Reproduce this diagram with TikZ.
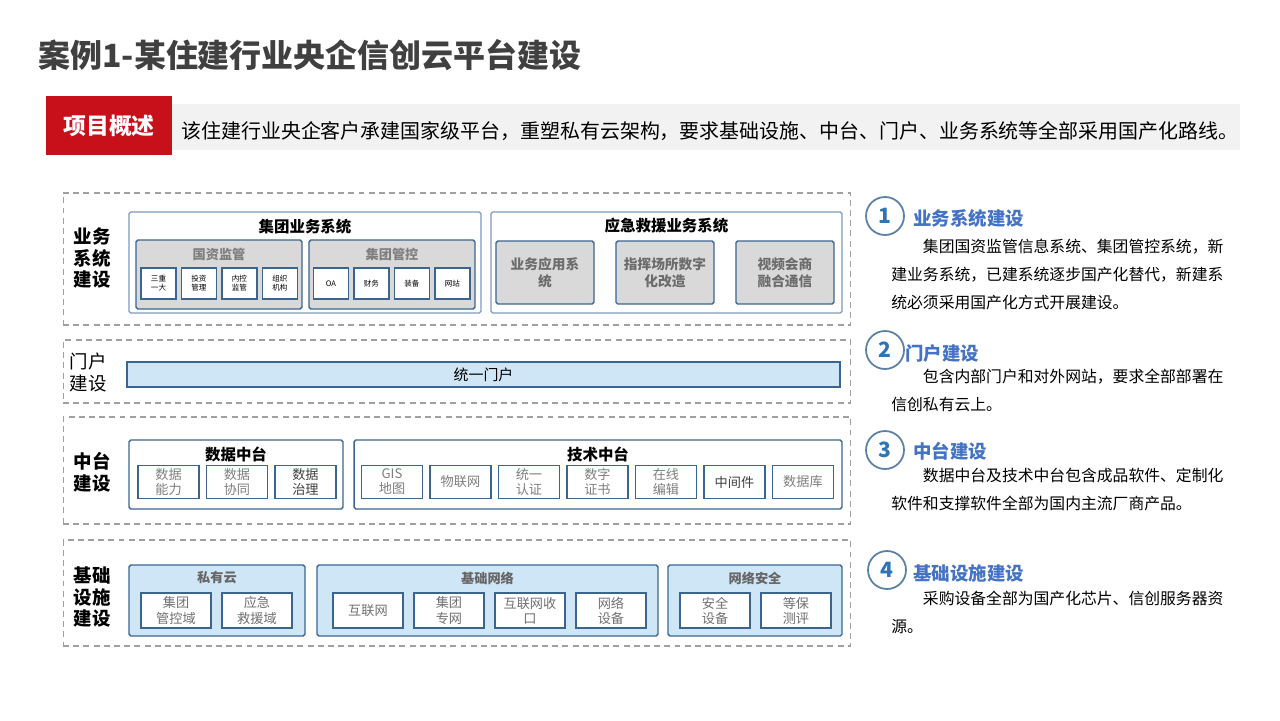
\documentclass[tikz,border=0pt]{standalone}
\usepackage{fontspec}
\setmainfont{Noto Sans CJK SC}
\usetikzlibrary{positioning}
\definecolor{titlegray}{HTML}{404040}
\definecolor{bannerred}{HTML}{C8101A}
\definecolor{bannergray}{HTML}{F2F2F2}
\definecolor{zonegray}{HTML}{A0A0A0}
\definecolor{boxblue}{HTML}{3A6590}
\definecolor{outerblue}{HTML}{7E9BB8}
\definecolor{fillgray}{HTML}{D9D9D9}
\definecolor{fillblue}{HTML}{CFE6F6}
\definecolor{headblue}{HTML}{4472C4}
\definecolor{ringblue}{HTML}{5B80A5}
\definecolor{numblue}{HTML}{2E75B6}
\definecolor{txtgray}{HTML}{7F7F7F}

\begin{document}
\begin{tikzpicture}[
    x=0.02cm, y=-0.02cm,
    on grid,
    node distance=0.81cm,
    inner sep=0pt,
    align=center,
    zone/.style={
        draw=zonegray,
        dash pattern=on 3.4pt off 2.4pt,
        line width=0.6pt,
        minimum width=15.76cm
    },
    outer/.style={
        draw=outerblue,
        rounded corners=1pt,
        line width=0.7pt,
        fill=white
    },
    inner/.style={
        draw=boxblue,
        rounded corners=1pt,
        line width=0.8pt
    },
    cell/.style={
        draw=boxblue,
        line width=0.8pt,
        fill=white
    },
    rowlabel/.style={
        font=\fontsize{10.5}{12.5}\selectfont\bfseries
    },
    grptitle/.style={
        font=\fontsize{8.8}{10}\selectfont\bfseries
    },
    ring/.style={
        circle,
        draw=ringblue,
        line width=1pt,
        minimum size=0.76cm,
        text=numblue,
        font=\fontsize{12}{12}\selectfont\bfseries
    },
    heading/.style={
        anchor=west,
        text=headblue,
        font=\fontsize{10.5}{12}\selectfont\bfseries
    },
    para/.style={
        anchor=north west,
        align=left,
        font=\fontsize{9}{15.9}\selectfont
    }]

    \useasboundingbox (0,0) rectangle (1280,720);

    % title and overview
    \node[anchor=west, text=titlegray, font=\fontsize{18.2}{20}\selectfont\bfseries] (title) at (38,55) {案例1-某住建行业央企信创云平台建设};
    \node[fill=bannergray, minimum width=21.36cm, minimum height=0.92cm] (banner) at (706,127) {};
    \node[fill=bannerred, text=white, minimum width=2.52cm, minimum height=1.18cm, font=\fontsize{13}{15}\selectfont\bfseries] (tag) at (109,125.5) {项目概述};
    \node[anchor=west, font=\fontsize{11.35}{13}\selectfont] (summary) at (181,131) {该住建行业央企客户承建国家级平台，重塑私有云架构，要求基础设施、中台、门户、业务系统等全部采用国产化路线。};

    % zones
    \node[zone, minimum height=2.64cm] (z1) at (457,259) {};
    \node[zone, minimum height=1.26cm] (z2) at (457,371.5) {};
    \node[zone, minimum height=2.14cm] (z3) at (457,470.5) {};
    \node[zone, minimum height=2.12cm] (z4) at (457,593) {};

    \node[rowlabel] (l1) at (92,258) {业务\\系统\\建设};
    \node[font=\fontsize{10.5}{12.5}\selectfont] (l2) at (88,372) {门户\\建设};
    \node[rowlabel] (l3) at (92,472) {中台\\建设};
    \node[rowlabel] (l4) at (92,597) {基础\\设施\\建设};

    % business systems
    \node[outer, minimum width=7.04cm, minimum height=2.02cm] (grp) at (305,262.5) {};
    \node[grptitle] (grpt) at (305,227) {集团业务系统};
    \node[inner, fill=fillgray, minimum width=3.32cm, minimum height=1.38cm] (gz) at (219,274.5) {};
    \node[inner, fill=fillgray, minimum width=3.32cm, minimum height=1.38cm] (gk) at (392,274.5) {};
    \node[text=txtgray, font=\fontsize{7.5}{9}\selectfont\bfseries] (gzt) at (219,254) {国资监管};
    \node[text=txtgray, font=\fontsize{7.5}{9}\selectfont\bfseries] (gkt) at (392,254) {集团管控};
    \begin{scope}[every node/.style={cell, minimum width=0.7cm, minimum height=0.62cm, font=\fontsize{4.3}{5.2}\selectfont}]
        \node (g1) at (158.5,283.5) {三重\\一大};
        \node[right=of g1] (g2) {投资\\管理};
        \node[right=of g2] (g3) {内控\\监管};
        \node[right=of g3] (g4) {组织\\机构};
        \node (k1) at (331,283.5) {OA};
        \node[right=of k1] (k2) {财务};
        \node[right=of k2] (k3) {装备};
        \node[right=of k3] (k4) {网站};
    \end{scope}

    \node[outer, minimum width=7.02cm, minimum height=2.02cm] (emg) at (666.5,262.5) {};
    \node[grptitle] (emgt) at (666.5,226) {应急救援业务系统};
    \begin{scope}[node distance=2.4cm, every node/.style={inner, fill=fillgray, minimum width=1.96cm, minimum height=1.26cm, text=txtgray!85!black, font=\fontsize{7.8}{9.5}\selectfont\bfseries}]
        \node (e1) at (545,272.5) {业务应用系\\统};
        \node[right=of e1] (e2) {指挥场所数字\\化改造};
        \node[right=of e2] (e3) {视频会商\\融合通信};
    \end{scope}

    % portal
    \node[draw=boxblue, line width=0.8pt, fill=fillblue, minimum width=14.26cm, minimum height=0.5cm, font=\fontsize{8.5}{10}\selectfont] (portal) at (483.5,374.5) {统一门户};

    % middle platform
    \node[inner, fill=white, minimum width=4.28cm, minimum height=1.38cm] (data) at (236,474.5) {};
    \node[grptitle] (datat) at (236,454) {数据中台};
    \node[inner, fill=white, minimum width=9.76cm, minimum height=1.38cm] (tech) at (598,474.5) {};
    \node[grptitle] (techt) at (598,454) {技术中台};
    \begin{scope}[node distance=1.37cm, every node/.style={cell, minimum width=1.22cm, minimum height=0.66cm, text=txtgray, font=\fontsize{7.5}{8.6}\selectfont}]
        \node (d1) at (168.5,482) {数据\\能力};
        \node[right=of d1] (d2) {数据\\协同};
        \node[right=of d2, text=titlegray] (d3) {数据\\治理};
        \node (t1) at (392,482) {GIS\\地图};
        \node[right=of t1] (t2) {物联网};
        \node[right=of t2] (t3) {统一\\认证};
        \node[right=of t3] (t4) {数字\\证书};
        \node[right=of t4] (t5) {在线\\编辑};
        \node[right=of t5, text=titlegray] (t6) {中间件};
        \node[right=of t6] (t7) {数据库};
    \end{scope}

    % infrastructure
    \node[inner, fill=fillblue, minimum width=3.52cm, minimum height=1.42cm] (cloud) at (217,600.5) {};
    \node[inner, fill=fillblue, minimum width=6.82cm, minimum height=1.42cm] (net) at (487.5,600.5) {};
    \node[inner, fill=fillblue, minimum width=3.48cm, minimum height=1.42cm] (sec) at (755,600.5) {};
    \begin{scope}[every node/.style={text=titlegray!80, font=\fontsize{7.5}{9}\selectfont\bfseries}]
        \node (cloudt) at (217,578) {私有云};
        \node (nett) at (487.5,578) {基础网络};
        \node (sect) at (755,578) {网络安全};
    \end{scope}
    \begin{scope}[node distance=1.62cm, every node/.style={cell, minimum width=1.4cm, minimum height=0.7cm, text=titlegray!75, font=\fontsize{7.5}{8.6}\selectfont}]
        \node (c1) at (176,610.5) {集团\\管控域};
        \node[right=of c1] (c2) {应急\\救援域};
        \node (n1) at (368,610.5) {互联网};
        \node[right=of n1] (n2) {集团\\专网};
        \node[right=of n2] (n3) {互联网收\\口};
        \node[right=of n3] (n4) {网络\\设备};
        \node (s1) at (715,610.5) {安全\\设备};
        \node[right=of s1] (s2) {等保\\测评};
    \end{scope}

    % notes on the right
    \node[ring] (r1) at (885,216) {1};
    \node[heading] (h1) at (913,218) {业务系统建设};
    \node[para] (p1) at (891,239) {\hspace*{2em}集团国资监管信息系统、集团管控系统，新\\建业务系统，已建系统逐步国产化替代，新建系\\统必须采用国产化方式开展建设。};

    \node[ring] (r2) at (885,350) {2};
    \node[heading] (h2) at (905,353) {门户建设};
    \node[para] (p2) at (891,369) {\hspace*{2em}包含内部门户和对外网站，要求全部部署在\\信创私有云上。};

    \node[ring] (r3) at (885,450) {3};
    \node[heading] (h3) at (913,451) {中台建设};
    \node[para] (p3) at (891,468) {\hspace*{2em}数据中台及技术中台包含成品软件、定制化\\软件和支撑软件全部为国内主流厂商产品。};

    \node[ring] (r4) at (887,570) {4};
    \node[heading] (h4) at (913,573) {基础设施建设};
    \node[para] (p4) at (891,591) {\hspace*{2em}采购设备全部为国产化芯片、信创服务器资\\源。};
\end{tikzpicture}
\end{document}
